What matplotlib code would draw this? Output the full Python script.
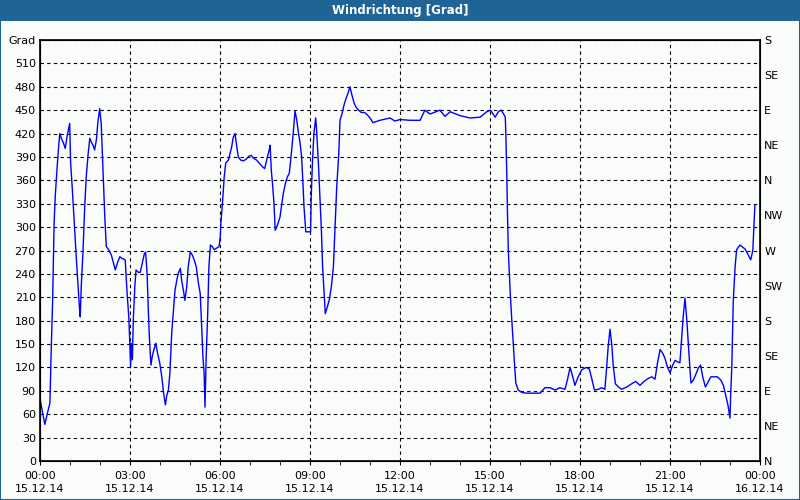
import matplotlib
matplotlib.use('Agg')
import matplotlib.pyplot as plt
from matplotlib.patches import Rectangle

# Stunden seit 15.12.14 00:00 und Windrichtung in Grad
stunden = [0.00, 0.16, 0.27, 0.33, 0.38, 0.42, 0.47, 0.51, 0.57, 0.62, 0.66, 0.71, 0.78, 0.84,
           0.91, 0.99, 1.02, 1.08, 1.13, 1.18, 1.22, 1.27, 1.32, 1.34, 1.38, 1.43, 1.49, 1.54,
           1.60, 1.66, 1.71, 1.77, 1.82, 1.88, 1.93, 1.99, 2.04, 2.10, 2.16, 2.21, 2.29, 2.38,
           2.44, 2.51, 2.58, 2.66, 2.73, 2.84, 2.91, 2.96, 2.99, 3.02, 3.04, 3.08, 3.11, 3.16,
           3.20, 3.28, 3.34, 3.41, 3.48, 3.52, 3.57, 3.61, 3.64, 3.68, 3.70, 3.74, 3.79, 3.86,
           3.92, 3.99, 4.06, 4.12, 4.18, 4.23, 4.28, 4.33, 4.39, 4.44, 4.50, 4.56, 4.61, 4.68,
           4.72, 4.78, 4.83, 4.89, 4.94, 5.01, 5.08, 5.14, 5.21, 5.28, 5.34, 5.39, 5.43, 5.47,
           5.50, 5.54, 5.59, 5.63, 5.68, 5.74, 5.81, 5.88, 5.97, 6.01, 6.03, 6.08, 6.11, 6.14,
           6.19, 6.28, 6.39, 6.44, 6.50, 6.56, 6.61, 6.69, 6.78, 6.87, 6.96, 7.04, 7.13, 7.22,
           7.31, 7.40, 7.49, 7.58, 7.64, 7.67, 7.71, 7.76, 7.80, 7.84, 7.91, 8.00, 8.06, 8.11,
           8.18, 8.24, 8.31, 8.38, 8.44, 8.50, 8.56, 8.61, 8.67, 8.72, 8.76, 8.80, 8.86, 9.02,
           9.04, 9.08, 9.13, 9.19, 9.22, 9.28, 9.33, 9.38, 9.42, 9.47, 9.51, 9.58, 9.64, 9.71,
           9.78, 9.83, 9.89, 9.96, 10.00, 10.07, 10.13, 10.20, 10.27, 10.33, 10.40, 10.47,
           10.53, 10.62, 10.71, 10.82, 10.91, 11.00, 11.10, 11.33, 11.67, 11.83, 12.00, 12.33,
           12.67, 12.83, 13.00, 13.33, 13.50, 13.67, 14.00, 14.33, 14.67, 14.89, 15.02, 15.17,
           15.28, 15.36, 15.44, 15.51, 15.53, 15.56, 15.58, 15.61, 15.67, 15.72, 15.78, 15.81,
           15.86, 15.94, 16.06, 16.22, 16.67, 16.83, 17.00, 17.17, 17.33, 17.50, 17.58, 17.67,
           17.76, 17.83, 17.94, 18.06, 18.20, 18.31, 18.39, 18.48, 18.61, 18.72, 18.83, 18.89,
           18.94, 19.00, 19.06, 19.11, 19.18, 19.28, 19.39, 19.56, 19.72, 19.86, 20.00, 20.13,
           20.28, 20.39, 20.50, 20.58, 20.67, 20.76, 20.83, 20.91, 21.00, 21.09, 21.17, 21.26,
           21.33, 21.39, 21.44, 21.50, 21.56, 21.61, 21.67, 21.70, 21.78, 21.87, 21.94, 22.02,
           22.09, 22.18, 22.28, 22.36, 22.58, 22.69, 22.78, 22.87, 22.93, 23.00, 23.02, 23.06,
           23.11, 23.17, 23.22, 23.33, 23.50, 23.60, 23.69, 23.76, 23.83]
grad = [80, 47, 65, 74, 151, 204, 305, 341, 376, 403, 420, 414, 408, 401,
        418, 433, 383, 347, 313, 279, 254, 223, 194, 185, 228, 266, 326, 364,
        392, 414, 409, 405, 399, 412, 435, 452, 433, 373, 313, 275, 271, 264,
        255, 245, 254, 262, 260, 258, 211, 185, 155, 121, 151, 130, 181, 223,
        245, 242, 242, 254, 266, 268, 241, 194, 164, 134, 123, 134, 142, 151,
        138, 126, 108, 87, 72, 85, 91, 113, 164, 189, 219, 232, 241, 247,
        232, 219, 206, 223, 249, 268, 264, 258, 249, 228, 215, 172, 134, 113,
        69, 134, 189, 249, 277, 275, 271, 273, 275, 288, 306, 330, 347, 364,
        382, 386, 403, 415, 420, 403, 390, 386, 385, 387, 391, 392, 388, 386,
        382, 378, 375, 390, 399, 405, 373, 351, 330, 296, 302, 313, 330, 343,
        356, 364, 369, 395, 420, 449, 437, 422, 408, 390, 360, 326, 294, 294,
        338, 382, 420, 440, 424, 382, 338, 296, 249, 215, 189, 198, 206, 223,
        249, 296, 351, 395, 437, 446, 456, 465, 472, 480, 469, 459,
        454, 450, 447, 447, 444, 440, 434, 437, 440, 436, 438, 437,
        437, 450, 445, 450, 442, 448, 443, 440, 441, 448, 450, 441,
        448, 450, 446, 441, 416, 367, 322, 270, 219, 185, 147, 129,
        100, 91, 88, 87, 87, 94, 94, 91, 94, 92, 104, 120,
        108, 97, 108, 117, 120, 118, 106, 91, 92, 94, 92, 121,
        147, 169, 149, 121, 99, 95, 92, 95, 99, 102, 97, 102,
        106, 108, 105, 125, 143, 138, 132, 121, 113, 123, 129, 127,
        126, 159, 185, 209, 181, 151, 115, 100, 104, 112, 119, 123,
        108, 95, 102, 108, 108, 104, 97, 82, 72, 55, 82, 121,
        206, 249, 271, 277, 272, 265, 258, 270, 328]

y_links = list(range(0, 541, 30))
y_links_text = [str(v) for v in range(0, 511, 30)] + ['Grad']
y_rechts = list(range(0, 541, 45))
y_rechts_text = ['N', 'NE', 'E', 'SE', 'S', 'SW', 'W', 'NW', 'N', 'NE', 'E', 'SE', 'S']
x_ticks = list(range(0, 25, 3))
x_text = ['00:00\n15.12.14', '03:00\n15.12.14', '06:00\n15.12.14', '09:00\n15.12.14',
          '12:00\n15.12.14', '15:00\n15.12.14', '18:00\n15.12.14', '21:00\n15.12.14',
          '00:00\n16.12.14']

plt.rcParams['font.family'] = ['DejaVu Sans']
plt.rcParams['font.size'] = 8

bg = '#fafcfa'
blau = '#1f6496'

fig = plt.figure(figsize=(8, 5), dpi=100, facecolor=bg)
fig.patches.append(Rectangle((0, 0.958), 1, 0.042, transform=fig.transFigure,
                             facecolor=blau, edgecolor='none', zorder=0))
fig.patches.append(Rectangle((0.0006, 0.001), 0.9988, 0.998, transform=fig.transFigure,
                             facecolor='none', edgecolor=blau, linewidth=1.5, zorder=5))
fig.text(0.5, 0.979, 'Windrichtung [Grad]', color='white', fontweight='bold',
         ha='center', va='center', fontsize=8.5)

ax = fig.add_axes([0.05, 0.078, 0.9, 0.842])
ax.set_facecolor(bg)
ax.plot(stunden, grad, color='#0000ff', linewidth=1)

ax.set_xlim(0, 24)
ax.set_ylim(0, 540)
ax.set_xticks(x_ticks)
ax.set_xticklabels(x_text, linespacing=1.45)
ax.set_xticks(range(0, 25), minor=True)
ax.set_yticks(y_links)
ax.set_yticklabels(y_links_text)
ax.tick_params(axis='x', which='both', direction='out', length=3, pad=4, color='black')
ax.tick_params(axis='y', length=0, pad=3)
ax.grid(True, color='black', linestyle=(0, (3, 3)), linewidth=0.8)

for s in ax.spines.values():
    s.set_color('black')
    s.set_linewidth(1.2)

ax2 = ax.twinx()
ax2.set_ylim(0, 540)
ax2.set_yticks(y_rechts)
ax2.set_yticklabels(y_rechts_text)
ax2.tick_params(axis='y', length=0, pad=3)

fig.savefig('out.png', dpi=100, facecolor=bg)
